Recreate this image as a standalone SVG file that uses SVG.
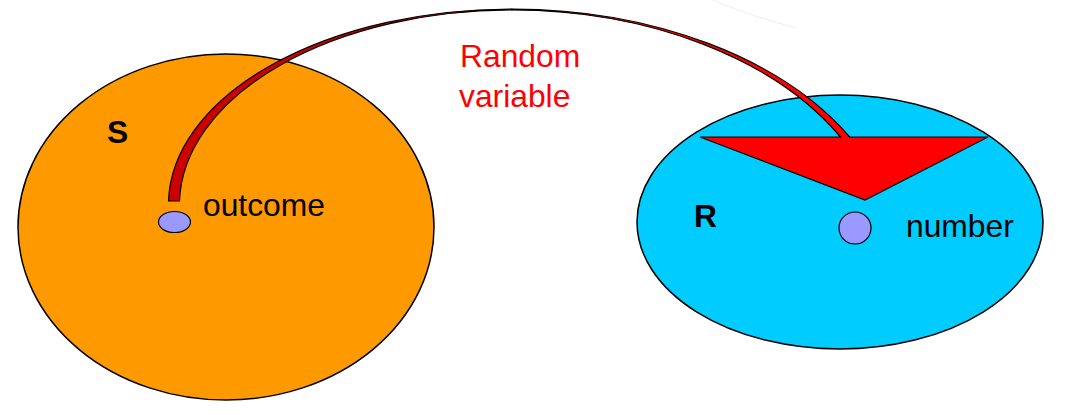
<svg xmlns="http://www.w3.org/2000/svg" width="1066" height="415" viewBox="0 0 1066 415">
  <style>
    .set { stroke: #000; stroke-width: 1.5; }
    .pt { fill: #9999FF; stroke: #000; stroke-width: 1.2; }
    .lbl { font-family: "Liberation Sans", Arial, sans-serif; font-size: 31.8px; fill: #000; }
    .bold { font-weight: bold; }
    .red { fill: #FF0000; }
  </style>
  <rect width="1066" height="415" fill="#FFFFFF"/>
  <path d="M713,0 Q750,16 796,28" fill="none" stroke="#F0F0F0" stroke-width="1.2"/>
  <g id="S">
    <ellipse class="set" cx="226" cy="227" rx="208" ry="173" fill="#FF9900"/>
    <text class="lbl bold" x="107" y="143">S</text>
  </g>
  <g id="R">
    <ellipse class="set" cx="840" cy="222" rx="203" ry="127" fill="#00CCFF"/>
    <text class="lbl bold" x="694" y="227">R</text>
  </g>
  <g id="connectors">
    <path d="M168.5,201 A343.5 196 0 0 1 512,9 L512,10 A332.5 195 0 0 0 179.5,201 Z" fill="#CC0000" stroke="#000" stroke-width="1.2" stroke-linejoin="round"/>
    <path d="M512,9 A385 246 0 0 1 849.7,137 L988,137 L865,200 L700,137 L840.6,137 A375 245 0 0 0 512,10 Z" fill="#FF0000" stroke="#000" stroke-width="1.2" stroke-linejoin="miter"/>
    <text class="lbl red" x="460" y="67">Random</text>
    <text class="lbl red" x="459" y="107">variable</text>
  </g>
  <g id="outcome">
    <ellipse class="pt" cx="174.5" cy="222" rx="16" ry="10.5"/>
    <text class="lbl" x="203" y="216">outcome</text>
  </g>
  <g id="number">
    <circle class="pt" cx="855" cy="228" r="16"/>
    <text class="lbl" x="906" y="237">number</text>
  </g>
</svg>
